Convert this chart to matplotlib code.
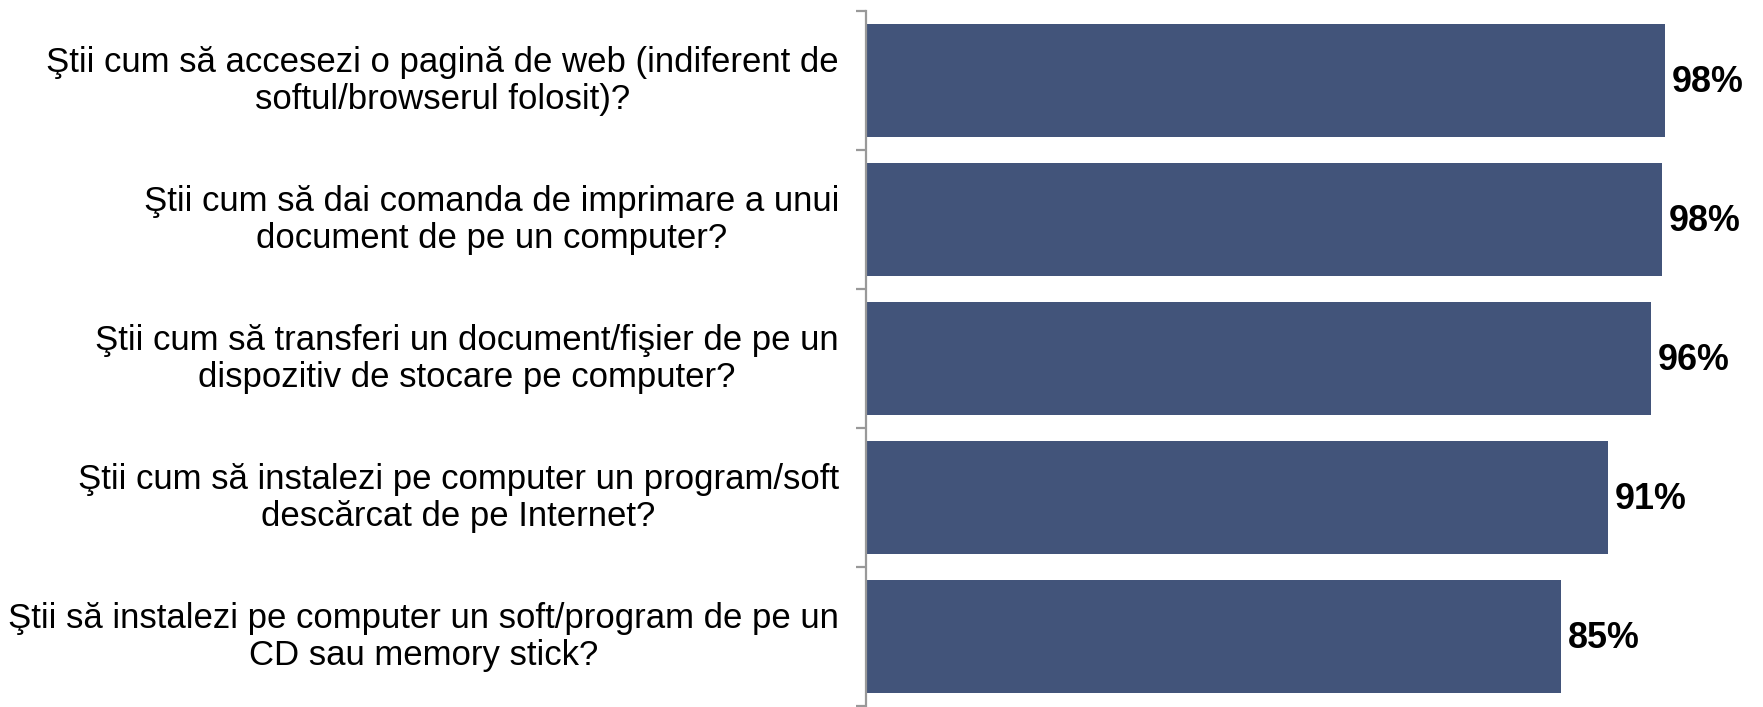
import matplotlib
matplotlib.use("Agg")
import matplotlib.pyplot as plt
import matplotlib.transforms as mtransforms
import numpy as np

plt.rcParams['font.family'] = ['Liberation Sans', 'DejaVu Sans']

line1 = [
    "Ştii cum să accesezi o pagină de web (indiferent de",
    "Ştii cum să dai comanda de imprimare a unui",
    "Ştii cum să transferi un document/fişier de pe un",
    "Ştii cum să instalezi pe computer un program/soft",
    "Ştii să instalezi pe computer un soft/program de pe un",
]
line2 = [
    "softul/browserul folosit)?",
    "document de pe un computer?",
    "dispozitiv de stocare pe computer?",
    "descărcat de pe Internet?",
    "CD sau memory stick?",
]
values = [97.9, 97.5, 96.2, 90.9, 85.2]
value_labels = ["98%", "98%", "96%", "91%", "85%"]

W, H, DPI = 1763, 707, 100
fig = plt.figure(figsize=(W / DPI, H / DPI), dpi=DPI)
ax = fig.add_axes([866 / W, 1 - 706 / H, (1682 - 866) / W, (706 - 11) / H])

bar_color = "#42547A"
y = np.arange(len(values))
ax.barh(y, values, height=0.82, color=bar_color, edgecolor="none")
ax.set_xlim(0, 100)
ax.set_ylim(len(values) - 0.5, -0.5)

for s in ["top", "right", "bottom"]:
    ax.spines[s].set_visible(False)
ax.spines["left"].set_color("#999999")
ax.spines["left"].set_linewidth(1.6)
ax.set_xticks([])
ax.set_yticks([])
ax.set_yticks(np.arange(len(values) + 1) - 0.5, minor=True)
ax.tick_params(axis="y", which="minor", length=7, width=1.6, color="#999999", direction="out")
ax.tick_params(axis="y", which="major", length=0)

tr = mtransforms.blended_transform_factory(fig.transFigure, ax.transData)
fs = 25.0
first_lines = []
for i in range(len(values)):
    t = ax.text(839 / W, i - 0.13, line1[i], transform=tr, ha="right", va="center",
                fontsize=fs, color="black")
    first_lines.append(t)
    ax.annotate(value_labels[i], xy=(values[i], i), xytext=(7, -2), textcoords="offset pixels",
                ha="left", va="center", fontsize=25.8, fontweight="bold", color="black",
                annotation_clip=False)

# second line centred under the first line (centre-aligned wrapped label)
fig.canvas.draw()
renderer = fig.canvas.get_renderer()
for i, t in enumerate(first_lines):
    bb = t.get_window_extent(renderer)
    cx = (bb.x0 + bb.x1) / 2 / W
    ax.text(cx, i + 0.135, line2[i], transform=tr, ha="center", va="center",
            fontsize=fs, color="black")

fig.savefig("out.png", dpi=DPI, facecolor="white")
